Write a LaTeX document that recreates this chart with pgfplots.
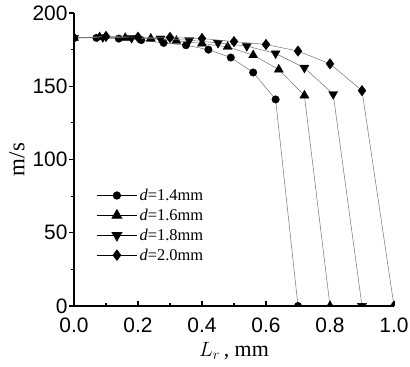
\documentclass[border=0pt]{standalone}
\usepackage{pgfplots}
\pgfplotsset{compat=1.18}
\usepackage{fontspec}
\setmainfont{Liberation Serif}
\newfontfamily\arial{Liberation Sans}

% thin grey connecting lines, black markers
\pgfplotsset{
  ser/.style={color=black!55, line width=0.5bp,
    mark options={solid, fill=black, draw=black, line width=0.3bp}},
}

\begin{document}
\begin{tikzpicture}
\path[use as bounding box] (-74bp,-61bp) rectangle (336bp,306bp);
\begin{axis}[
  at={(0,0)}, anchor=origin,
  scale only axis,
  width=320bp, height=293bp,
  xmin=0, xmax=1, ymin=0, ymax=200,
  axis x line*=bottom, axis y line*=left,
  axis line style={line width=1.6bp},
  xtick={0,0.2,...,1.0}, ytick={0,50,...,200},
  minor x tick num=1, minor y tick num=1,
  tick style={line width=1.2bp, black},
  major tick length=5bp, minor tick length=3bp,
  tick align=inside,
  major y tick style={xshift=-5bp},
  minor y tick style={xshift=-3bp},
  xticklabel style={/pgf/number format/fixed, /pgf/number format/fixed zerofill,
    /pgf/number format/precision=1, yshift=-8bp},
  ticklabel style={font=\arial\fontsize{21}{22}\selectfont},
  /pgf/number format/assume math mode=true,
  yticklabel style={xshift=-3bp},
  xlabel={\fontsize{22}{24}\selectfont$L_{r}$\,, mm},
  ylabel={\fontsize{23}{25}\selectfont m/s},
  xlabel style={at={(axis description cs:0.5,0)}, anchor=north, yshift=-33bp},
  ylabel style={at={(axis description cs:0,0.5)}, anchor=south, yshift=46bp},
  clip=true, clip marker paths=true,
  legend style={draw=none, fill=none, at={(axis description cs:0.066,0.41)}, anchor=north west,
    font=\fontsize{16.5}{17}\selectfont, row sep=3bp, inner sep=1bp,
    /tikz/every even column/.append style={column sep=2bp}},
  legend image code/.code={%
    \draw[#1, mark repeat=2, mark phase=2] plot coordinates {(0bp,0bp) (20bp,0bp) (40bp,0bp)};},
]
\addplot[ser, mark=*, mark size=3.8bp, forget plot] coordinates {
  (0,183) (0.07,183) (0.14,182.5) (0.21,181.5) (0.28,179.6) (0.35,178)
  (0.42,175) (0.49,169.6) (0.56,159.4) (0.63,141) (0.70,0)};
\addplot[ser, mark=triangle*, mark size=5.3bp, forget plot] coordinates {
  (0,183) (0.08,183.5) (0.16,183) (0.24,182.5) (0.32,181) (0.40,179.2)
  (0.48,176.9) (0.56,171.2) (0.64,161.4) (0.72,143.7) (0.80,0)};
\addplot[ser, mark=triangle*, mark size=5.3bp,
  mark options={solid, fill=black, draw=black, line width=0.3bp, rotate=180}, forget plot] coordinates {
  (0,183) (0.09,183.5) (0.18,183) (0.27,182.5) (0.36,181.4) (0.45,179.6)
  (0.54,177.4) (0.63,172.4) (0.72,162.6) (0.81,144.6) (0.90,0)};
\addplot[ser, mark=diamond*, mark size=5.3bp, forget plot] coordinates {
  (0,183) (0.1,184) (0.2,183.5) (0.3,183.3) (0.4,182.6) (0.5,180.5)
  (0.6,178.5) (0.7,174) (0.8,165.3) (0.9,147) (1.0,0)};

\addlegendimage{black, line width=0.6bp, mark=*, mark size=3.8bp}
\addlegendentry{\textit{d}=1.4mm}
\addlegendimage{black, line width=1.2bp, mark=triangle*, mark size=5.3bp}
\addlegendentry{\textit{d}=1.6mm}
\addlegendimage{black, line width=1.2bp, mark=triangle*, mark size=5.3bp, mark options={rotate=180}}
\addlegendentry{\textit{d}=1.8mm}
\addlegendimage{black, line width=0.6bp, mark=diamond*, mark size=5.3bp}
\addlegendentry{\textit{d}=2.0mm}
\end{axis}
\end{tikzpicture}
\end{document}
